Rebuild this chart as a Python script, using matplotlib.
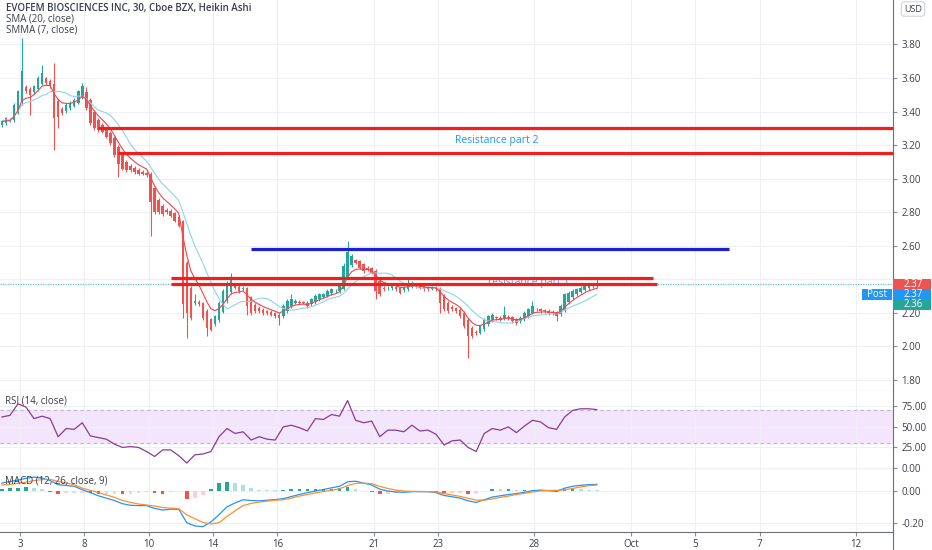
import numpy as np
import pandas as pd
import matplotlib
matplotlib.use("Agg")
import matplotlib.pyplot as plt
from matplotlib.patches import Rectangle

plt.rcParams['font.family'] = ['Open Sans', 'DejaVu Sans']

# ---- Heikin Ashi closes, 8 bars per session (first session partial) ----
first_open = 3.32
close = [
    3.34, 3.36, 3.35, 3.44, 3.52,                      # Sep 2 (tail)
    3.64, 3.52, 3.50, 3.55, 3.60, 3.63, 3.57, 3.55,    # Sep 3
    3.36, 3.37, 3.39, 3.44, 3.45, 3.47, 3.52, 3.55,    # Sep 4
    3.42, 3.33, 3.30, 3.29, 3.28, 3.25, 3.21, 3.14,    # Sep 8
    3.09, 3.06, 3.05, 3.05, 3.04, 3.03, 3.03, 3.02,    # Sep 9
    2.86, 2.80, 2.80, 2.79, 2.80, 2.78, 2.75, 2.72,    # Sep 10
    2.25, 2.20, 2.17, 2.27, 2.25, 2.17, 2.11, 2.10,    # Sep 11
    2.18, 2.26, 2.33, 2.38, 2.40, 2.35, 2.33, 2.35,    # Sep 14
    2.24, 2.20, 2.21, 2.21, 2.20, 2.20, 2.19, 2.18,    # Sep 15
    2.17, 2.24, 2.27, 2.28, 2.27, 2.26, 2.26, 2.24,    # Sep 16
    2.28, 2.30, 2.31, 2.31, 2.33, 2.34, 2.33, 2.36,    # Sep 17
    2.48, 2.56, 2.54, 2.50, 2.47, 2.45, 2.46, 2.44,    # Sep 18
    2.33, 2.31, 2.34, 2.35, 2.36, 2.34, 2.32, 2.35,    # Sep 21
    2.37, 2.38, 2.36, 2.35, 2.34, 2.34, 2.35, 2.34,    # Sep 22
    2.26, 2.22, 2.21, 2.22, 2.21, 2.18, 2.12, 2.06,    # Sep 23
    2.06, 2.08, 2.12, 2.16, 2.18, 2.19, 2.17, 2.16,    # Sep 24
    2.19, 2.17, 2.15, 2.14, 2.17, 2.20, 2.22, 2.24,    # Sep 25
    2.22, 2.21, 2.21, 2.20, 2.20, 2.18, 2.24, 2.31,    # Sep 28
    2.32, 2.33, 2.34, 2.35, 2.36, 2.37, 2.36, 2.37,    # Sep 29
]
# wick length above / below the body
wick_hi = [
    .01, .01, .01, .01, .01,
    .20, .01, .01, .01, .01, .05, .01, .01,
    .12, .01, .01, .01, .01, .01, .01, .02,
    .03, .01, .01, .01, .01, .01, .01, .01,
    .01, .01, .01, .01, .01, .01, .01, .01,
    .01, .01, .01, .01, .01, .01, .01, .01,
    .01, .01, .01, .04, .01, .01, .01, .01,
    .01, .01, .01, .01, .04, .01, .01, .01,
    .01, .01, .01, .01, .01, .01, .01, .01,
    .01, .01, .01, .03, .01, .01, .01, .01,
    .01, .01, .01, .01, .01, .01, .01, .01,
    .02, .07, .01, .01, .01, .01, .01, .01,
    .01, .01, .01, .01, .01, .01, .01, .01,
    .03, .01, .01, .01, .01, .01, .01, .01,
    .01, .01, .01, .01, .01, .01, .01, .01,
    .01, .01, .01, .01, .01, .01, .01, .01,
    .05, .01, .01, .01, .01, .01, .01, .03,
    .01, .01, .01, .01, .01, .01, .01, .01,
    .01, .01, .01, .01, .01, .01, .01, .03,
]
wick_lo = [
    .01, .01, .01, .01, .01,
    .02, .01, .12, .01, .01, .01, .01, .01,
    .19, .07, .01, .01, .01, .01, .01, .01,
    .01, .01, .01, .01, .01, .01, .01, .01,
    .08, .01, .01, .01, .01, .01, .01, .01,
    .20, .01, .01, .01, .01, .01, .01, .01,
    .08, .15, .01, .01, .01, .01, .05, .01,
    .01, .01, .01, .01, .01, .01, .01, .01,
    .05, .01, .01, .01, .01, .01, .01, .01,
    .04, .01, .01, .01, .01, .01, .01, .01,
    .01, .01, .01, .01, .01, .01, .01, .01,
    .01, .01, .01, .01, .01, .01, .01, .01,
    .05, .01, .01, .01, .01, .01, .01, .01,
    .01, .01, .01, .01, .01, .01, .01, .01,
    .06, .01, .01, .01, .01, .01, .01, .13,
    .01, .01, .01, .01, .01, .01, .01, .01,
    .01, .01, .01, .01, .01, .01, .01, .01,
    .01, .01, .01, .01, .01, .03, .01, .01,
    .01, .01, .01, .01, .01, .01, .01, .01,
]

# RSI and MACD read every second bar
rsi = [62, 64, 78, 74, 60, 63, 60, 38, 48, 47, 55, 39, 37, 35, 29, 25, 26, 25, 20,
       14, 22, 22, 15, 6, 16, 17, 20, 38, 48, 42, 44, 34, 38, 35, 34, 50, 52, 49,
       45, 60, 59, 65, 63, 82, 58, 55, 57, 38, 46, 46, 44, 52, 45, 46, 41, 28, 33,
       34, 25, 20, 42, 48, 46, 50, 43, 51, 58, 56, 49, 47, 62, 70, 72, 72, 71]
macd = [0.050, 0.060, 0.069, 0.080, 0.088, 0.082, 0.066, 0.040, 0.035, 0.030,
        0.008, -0.010, -0.030, -0.045, -0.060, -0.080, -0.090, -0.092, -0.092,
        -0.110, -0.120, -0.115, -0.115, -0.200, -0.220, -0.225, -0.195, -0.150,
        -0.100, -0.075, -0.055, -0.060, -0.062, -0.058, -0.054, -0.048, -0.035,
        -0.022, -0.010, 0.000, 0.010, 0.020, 0.030, 0.058, 0.062, 0.050, 0.038,
        0.012, 0.000, -0.006, -0.008, -0.004, -0.004, -0.004, -0.010, -0.028,
        -0.036, -0.045, -0.062, -0.072, -0.055, -0.038, -0.030, -0.022, -0.016,
        -0.008, 0.002, 0.006, 0.002, -0.002, 0.018, 0.030, 0.036, 0.040, 0.042]
signal = [0.038, 0.042, 0.048, 0.056, 0.066, 0.072, 0.074, 0.060, 0.050, 0.040,
          0.018, 0.005, -0.010, -0.025, -0.040, -0.060, -0.072, -0.082, -0.088,
          -0.095, -0.104, -0.108, -0.112, -0.150, -0.175, -0.198, -0.208, -0.200,
          -0.160, -0.125, -0.092, -0.078, -0.070, -0.064, -0.058, -0.055, -0.045,
          -0.032, -0.022, -0.012, -0.003, 0.005, 0.014, 0.035, 0.048, 0.050, 0.046,
          0.030, 0.016, 0.006, 0.000, -0.002, -0.003, -0.004, -0.006, -0.016,
          -0.025, -0.034, -0.046, -0.057, -0.058, -0.050, -0.040, -0.032, -0.022,
          -0.015, -0.006, 0.000, 0.004, 0.004, 0.008, 0.016, 0.026, 0.034, 0.038]

# x axis: trading-session offsets of the labelled days
tick_sessions = [0, 2, 4, 6, 8, 11, 13, 16, 19, 21, 23, 26]
tick_labels = ['3', '8', '10', '14', '16', '21', '23', '28', 'Oct', '5', '7', '12']
first_partial = 5
bars_per_session = 8

# drawn levels: price, first bar, last bar
levels = [3.30, 3.15, 2.58, 2.41, 2.37]
level_from = [24, 29, 62, 42, 42]
level_to = [230, 230, 181, 162, 163]
level_is_blue = [False, False, True, False, False]

post_price = 2.37
bid_price = 2.36

# ---- derived series ----
close = np.array(close)
n = len(close)
x = np.arange(n)
ha_open = np.empty(n)
ha_open[0] = first_open
for i in range(1, n):
    ha_open[i] = (ha_open[i - 1] + close[i - 1]) / 2
high = np.maximum(ha_open, close) + np.array(wick_hi)
low = np.minimum(ha_open, close) - np.array(wick_lo)
up = close >= ha_open

sma = pd.Series(close).rolling(12, min_periods=1).mean()
smma = np.empty(n)
smma[0] = close[0]
for i in range(1, n):
    smma[i] = (smma[i - 1] * 3 + close[i]) / 4

xs = x[::2]
macd = np.array(macd)
signal = np.array(signal)
hist = macd - signal

GREEN = '#26a69a'
RED = '#ef5350'
GRID = '#eef0f4'
TXT = '#3a3e4a'
SEP = '#b8bbc4'

fig = plt.figure(figsize=(9.32, 5.5), dpi=100)
ax = fig.add_axes([0, 0.2891, 0.9582, 0.7109])
ax_rsi = fig.add_axes([0, 0.1455, 0.9582, 0.1436], sharex=ax)
ax_macd = fig.add_axes([0, 0.0327, 0.9582, 0.1127], sharex=ax)

tick_pos = [first_partial + bars_per_session * s - 0.5 for s in tick_sessions]

for a in (ax, ax_rsi, ax_macd):
    a.set_xlim(-0.47, 221.7)
    a.yaxis.tick_right()
    a.set_xticks(tick_pos)
    a.grid(True, color=GRID, lw=0.8)
    a.set_axisbelow(True)
    a.spines['left'].set_visible(False)
    a.spines['top'].set_visible(False)
    a.spines['bottom'].set_color(SEP)
    a.spines['right'].set_color('#6b6e78')
    a.tick_params(axis='y', labelsize=7, labelcolor=TXT, color='#8a8d96', length=3, pad=3)
    a.tick_params(axis='x', labelbottom=False, length=0)

# ---- price pane ----
ax.set_ylim(1.734, 4.065)
ax.set_yticks(np.arange(1.8, 3.81, 0.2))
# 2.40 sits under the last-price tag
ax.yaxis.set_major_formatter(plt.FuncFormatter(
    lambda v, p: '' if abs(v - 2.4) < 1e-6 else f'{v:.2f}'))

colors = np.where(up, GREEN, RED)
ax.vlines(x, low, high, colors=colors, lw=0.8, zorder=3)
ax.bar(x, np.maximum(np.abs(close - ha_open), 0.004), bottom=np.minimum(ha_open, close),
       width=0.62, color=colors, zorder=3)
ax.plot(x, sma, color='#8fd3e8', lw=0.8, zorder=4)
ax.plot(x, smma, color='#f0454a', lw=0.8, zorder=4)

ax.axhline(post_price, color='#5bbfe6', lw=0.9, ls=(0, (1, 1)), zorder=2)

ax.text(123, 3.225, 'Resistance part 2', color='#2196f3', fontsize=7.5, ha='center', va='center', zorder=5)
ax.text(131, 2.378, 'resistance part 1', color='#4a9de8', fontsize=7.5, ha='center', va='center', zorder=4)
for lv, a0, a1, blue in zip(levels, level_from, level_to, level_is_blue):
    ax.plot([a0, a1], [lv, lv], color='#1c1fd6' if blue else '#f21d1d', lw=2.3,
            solid_capstyle='butt', zorder=6)

# price labels on the axis
px = (ax.get_ylim()[1] - ax.get_ylim()[0]) / (0.7109 * 550)
tr = ax.get_yaxis_transform()
for k, (txt, fc) in enumerate([(f'{post_price:.2f}', RED), (f'{post_price:.2f}', '#2196f3'),
                               (f'{bid_price:.2f}', GREEN)]):
    yc = post_price - k * 10 * px
    ax.add_patch(Rectangle((1.0005, yc - 5.5 * px), 0.0425, 11 * px, transform=tr,
                           fc=fc, ec='none', clip_on=False, zorder=10))
    ax.text(1.023, yc, txt, transform=tr, color='white', fontsize=7, ha='center',
            va='center', clip_on=False, zorder=11)
    if k == 1:
        ax.add_patch(Rectangle((0.9653, yc - 5.5 * px), 0.0335, 11 * px, transform=tr,
                               fc=fc, ec='none', clip_on=False, zorder=10))
        ax.text(0.982, yc, 'Post', transform=tr, color='white', fontsize=7, ha='center',
                va='center', clip_on=False, zorder=11)

# ---- RSI pane ----
ax_rsi.set_ylim(-2.4, 93.6)
ax_rsi.set_yticks([0, 25, 50, 75])
ax_rsi.yaxis.set_major_formatter(plt.FuncFormatter(lambda v, p: f'{v:.2f}'))
ax_rsi.axhspan(30, 70, color='#f3e6fc', zorder=0)
for lv in (70, 30):
    ax_rsi.axhline(lv, color='#c0b2c9', lw=0.8, ls=(0, (3, 3)), zorder=1)
ax_rsi.plot(xs, rsi, color='#8a3a97', lw=0.9, zorder=3)

# ---- MACD pane ----
ax_macd.set_ylim(-0.2587, 0.1325)
ax_macd.set_yticks([-0.2, 0.0])
ax_macd.yaxis.set_major_formatter(plt.FuncFormatter(lambda v, p: f'{v:.2f}'))
prev = np.r_[hist[0], hist[:-1]]
hcol = np.where(hist >= 0, np.where(hist >= prev, GREEN, '#b2dfdb'),
                np.where(hist < prev, RED, '#ffcdd2'))
ax_macd.bar(xs, hist, width=0.9, color=hcol, zorder=2)
ax_macd.plot(xs, macd, color='#2196f3', lw=0.9, zorder=3)
ax_macd.plot(xs, signal, color='#ff8f2e', lw=0.9, zorder=3)
ax_macd.spines['bottom'].set_color('#6b6e78')
ax_macd.set_xticklabels(tick_labels)
ax_macd.tick_params(axis='x', labelbottom=True, labelsize=7, labelcolor=TXT,
                    length=3, color='#8a8d96', pad=2)

# right axis line continues through the date strip
fig.add_artist(plt.Line2D([0.9582, 0.9582], [0, 0.0327], color='#6b6e78', lw=0.8))

# ---- legend texts ----
fig.text(6 / 932, 1 - 8 / 550, 'EVOFEM BIOSCIENCES INC, 30, Cboe BZX, Heikin Ashi',
         fontsize=7, color=TXT, fontweight='semibold', va='center')
fig.text(6 / 932, 1 - 19 / 550, 'SMA (20, close)', fontsize=7, color=TXT, va='center')
fig.text(6 / 932, 1 - 30 / 550, 'SMMA (7, close)', fontsize=7, color=TXT, va='center')
fig.text(5 / 932, 1 - 401 / 550, 'RSI (14, close)', fontsize=7, color=TXT, va='center')
fig.text(5 / 932, 1 - 481 / 550, 'MACD (12, 26, close, 9)', fontsize=7, color=TXT, va='center')
fig.text(913 / 932, 1 - 9 / 550, 'USD', fontsize=6.5, color=TXT, ha='center', va='center',
         bbox=dict(boxstyle='round,pad=0.3', fc='white', ec='#d1d4dc', lw=0.8))

fig.savefig('out.png', dpi=100)
